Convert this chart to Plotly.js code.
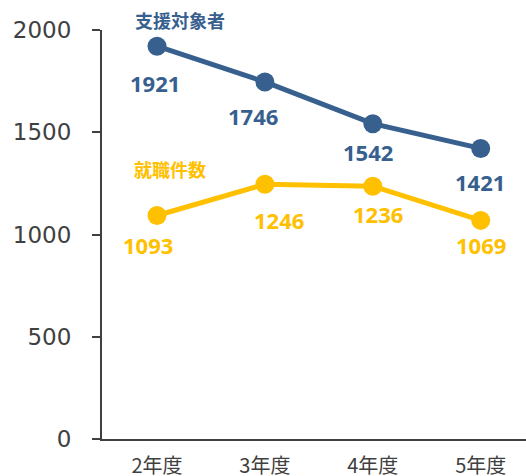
<!DOCTYPE html>
<html><head><meta charset="utf-8">
<script src="https://cdn.plot.ly/plotly-3.0.1.min.js"></script>
<style>html,body{margin:0;padding:0;background:#fff}#c{width:526px;height:476px}</style>
</head><body><div id="c"></div>
<script>
const categories = ["2年度","3年度","4年度","5年度"];
const seriesA = "支援対象者";
const valuesA = [1921,1746,1542,1421];
const seriesB = "就職件数";
const valuesB = [1093,1246,1236,1069];
const yTicks = [0,500,1000,1500,2000];

const blue = "#37608F", yellow = "#FFC000", axisC = "#404040";
const labelShiftA = [[-2,-37],[-12,-34],[-5,-28],[-1,-34]];
const labelShiftB = [[-9,-30],[14,-36],[5,-28],[0,-25]];

const traces = [
 {x:categories,y:valuesA,type:"scatter",mode:"lines+markers",line:{color:blue,width:5},marker:{color:blue,size:19},cliponaxis:false,hoverinfo:"skip"},
 {x:categories,y:valuesB,type:"scatter",mode:"lines+markers",line:{color:yellow,width:5},marker:{color:yellow,size:19},cliponaxis:false,hoverinfo:"skip"}
];
const ann = [];
const lf = {family:"Noto Sans, Open Sans, sans-serif",size:22,weight:700};
categories.forEach((c,i)=>{
 ann.push({x:c,y:valuesA[i],xref:"x",yref:"y",text:"<b>"+valuesA[i]+"</b>",showarrow:false,xshift:labelShiftA[i][0],yshift:labelShiftA[i][1],font:Object.assign({color:blue},lf)});
 ann.push({x:c,y:valuesB[i],xref:"x",yref:"y",text:"<b>"+valuesB[i]+"</b>",showarrow:false,xshift:labelShiftB[i][0],yshift:labelShiftB[i][1],font:Object.assign({color:yellow},lf)});
});
const L=102,R=0,T=30,B=37,W=526,H=476;
const px=(x)=>(x-L)/(W-L-R), py=(y)=>(H-y-B)/(H-T-B);
const nf = {family:"Noto Sans CJK JP",size:18,weight:700};
ann.push({x:px(180),y:py(20),xref:"paper",yref:"paper",xanchor:"center",yanchor:"middle",text:"<b>"+seriesA+"</b>",showarrow:false,font:Object.assign({color:blue},nf)});
ann.push({x:px(170),y:py(169),xref:"paper",yref:"paper",xanchor:"center",yanchor:"middle",text:"<b>"+seriesB+"</b>",showarrow:false,font:Object.assign({color:yellow},nf)});

const layout = {
 width:W,height:H,margin:{l:L,r:R,t:T,b:B,pad:0},
 paper_bgcolor:"#fff",plot_bgcolor:"#fff",showlegend:false,
 xaxis:{type:"category",range:[-0.51,3.42],showgrid:false,zeroline:false,showline:true,linecolor:axisC,linewidth:2,ticks:"",
   tickfont:{family:"Noto Sans CJK JP",size:20,color:axisC},ticklabelstandoff:8},
 yaxis:{range:[0,2000],tickvals:yTicks,showgrid:false,zeroline:false,showline:true,linecolor:axisC,linewidth:2,ticks:"outside",ticklen:8,tickwidth:2,tickcolor:axisC,
   tickfont:{family:"DejaVu Sans, Verdana, sans-serif",size:23,color:axisC},ticklabelstandoff:16},
 annotations:ann
};
Plotly.newPlot("c",traces,layout,{staticPlot:true,displayModeBar:false});
</script></body></html>
